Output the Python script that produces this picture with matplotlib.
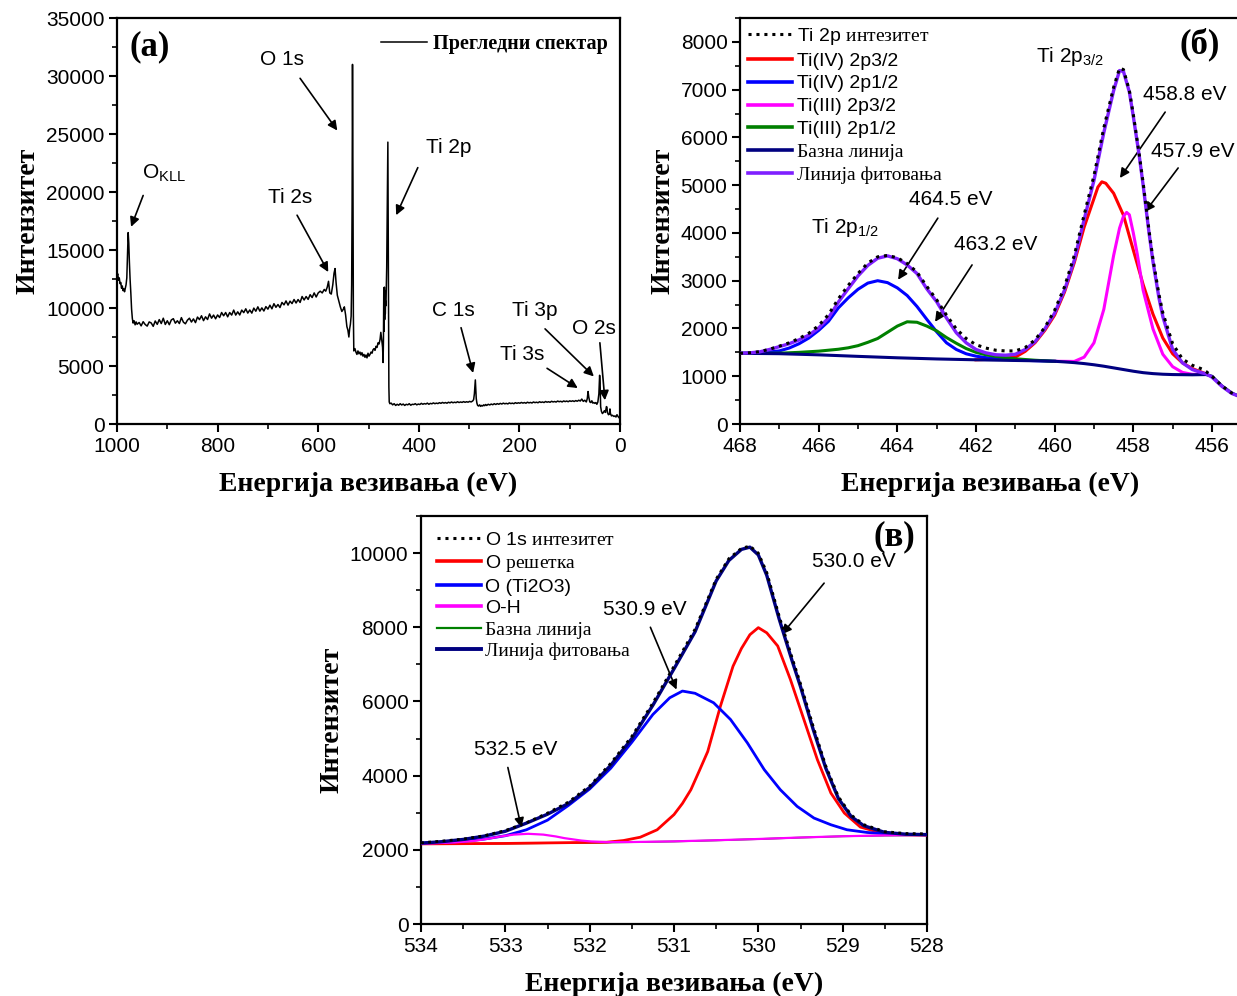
import matplotlib
matplotlib.use('Agg')
import matplotlib.pyplot as plt
from matplotlib.ticker import MultipleLocator
from matplotlib.lines import Line2D

plt.rcParams['font.family'] = ['Liberation Sans', 'DejaVu Sans']
plt.rcParams['mathtext.fontset'] = 'custom'
plt.rcParams['mathtext.rm'] = 'Liberation Serif'
plt.rcParams['mathtext.sf'] = 'Liberation Sans'
plt.rcParams['mathtext.it'] = 'Liberation Serif:italic'
plt.rcParams['mathtext.bf'] = 'Liberation Serif:bold'

SERIF = 'Liberation Serif'

# ---- (a) survey spectrum ----
survey_be = [1000, 998.5, 997, 995.5, 994, 992.5, 991, 989.5, 988, 986.5, 985, 983.5, 982, 980.5,
             979, 977.8, 976.6, 975.4, 974, 972.5, 971, 969.5, 968, 966, 964, 962, 960,
             956, 952, 948, 944, 940, 936, 932, 928, 924, 920, 916, 912, 908, 904, 900, 896,
             892, 888, 884, 880, 876, 872, 868, 864, 860, 856, 852, 848, 844, 840, 836, 832,
             828, 824, 820, 816, 812, 808, 804, 800, 796, 792, 788, 784, 780, 776, 772, 768,
             764, 760, 756, 752, 748, 744, 740, 736, 732, 728, 724, 720, 716, 712, 708, 704,
             700, 696, 692, 688, 684, 680, 676, 672, 668, 664, 660, 656, 652, 648, 644, 640,
             636, 632, 628, 624, 620, 616, 612, 608, 604, 600,
             596, 592, 588, 585, 582, 579.5, 577, 574,
             571, 568.5, 566.5, 564.5, 562, 559, 556, 553, 550, 548, 545.5, 543, 541, 539,
             537.5, 536, 534.5, 533.5, 532.6, 531.8, 530.9, 530.1, 529.2, 527, 525, 523, 521,
             519, 517, 515, 513, 511, 509, 507, 505, 503, 501, 499, 497, 495, 493, 491, 489,
             487, 485, 483, 481, 479, 477, 475.5, 474, 473, 472, 471, 470.3, 469.6, 469, 468.4,
             467.8, 467.2, 466.6, 466, 465.3, 464.6, 463.8, 463, 462.3, 461.5, 460.8, 460.2,
             459.5, 458.8, 457.5, 455, 452, 449, 446, 443, 440, 437, 434, 431, 428, 425, 422,
             419, 416, 413, 410, 407, 404, 401, 398, 395, 392, 389, 386, 383, 380, 377, 374,
             371, 368, 365, 362, 359, 356, 353, 350, 347, 344, 341, 338, 335, 332, 329, 326,
             323, 320, 317, 314, 311, 308, 305, 302, 299, 296, 293, 291, 289.5, 288.5, 287.6,
             286.7, 285.8, 284.5, 283, 281, 279, 277, 275, 273, 271, 269, 267, 265, 262, 259,
             256, 253, 250, 247, 244, 241, 238, 235, 232, 229, 226, 223, 220, 217, 214, 211,
             208, 205, 202, 199, 196, 193, 190, 187, 184, 181, 178, 175, 172, 169, 166, 163,
             160, 157, 154, 151, 148, 145, 142, 139, 136, 133, 130, 127, 124, 121, 118, 115,
             112, 109, 106, 103, 100, 97, 94, 91, 88, 85, 82, 79, 76, 73, 70, 67, 65, 63.5,
             62, 60, 58, 56, 54, 52, 50, 48, 46, 44, 42, 40.5, 39.5, 38.5, 37, 35, 33, 31, 29,
             27, 26, 25, 23, 21, 20, 19, 17, 15, 12, 10, 8, 6, 4, 2, 0]
survey_int = [12800, 12950, 12400, 12600, 12100, 12200, 11700, 11900, 11500, 11650, 11400, 11700,
              12000, 12600, 14800, 16500, 15600, 14000, 12500, 11300, 9900, 9100, 8700, 8900,
              8550, 8800, 8600,
              8750, 8460, 8820, 8580, 8440, 8800, 8710, 8420, 8880, 8590, 9000, 8660, 9120,
              8580, 8900, 8560, 8970, 9080, 8690, 8900, 8660, 9170, 8780, 8640, 8950, 9120,
              8790, 9060, 8740, 9220, 9000, 9330, 8910, 9240, 9010, 9490, 9120, 9390, 9070,
              9400, 9180, 9610, 9330, 9610, 9240, 9610, 9390, 9820, 9390, 9670, 9400, 9820,
              9600, 9930, 9560, 9830, 9560, 9990, 9720, 10100, 9730, 10010, 9740, 10120, 9900,
              10240, 9930, 10370, 10060, 10300, 10040, 10480, 10270, 10610, 10250, 10590,
              10380, 10730, 10430, 10730, 10480, 10990, 10690, 10990, 10740, 11150, 10900,
              11300, 10950, 11300,
              11450, 11300, 11600, 11450, 11800, 12300, 11300, 11200, 12000, 13000, 13400,
              12200, 11100, 10600, 10100, 9700, 9900, 10100, 9400, 8400, 8100, 7500, 8200,
              8600, 9300, 12000, 19000, 31000, 21000, 9500, 6300, 6500, 6200, 6000, 6300, 6050,
              6200, 5950, 6150, 5850, 6000, 5750, 5950, 5700, 6100, 5850, 6000, 6200, 6100,
              6400, 6500, 6350, 6700, 6600, 7000, 6900, 7300, 7900, 7400, 7000, 6600, 5300,
              7200, 11700, 8000, 11800, 9000, 11500, 9500, 10600, 10200, 11600, 13500, 17000,
              20000, 24300, 17000, 9000, 3200, 1900, 1750, 1800, 1650, 1750, 1600, 1700, 1620,
              1750, 1640, 1720, 1600, 1700, 1650, 1750, 1620, 1700, 1680, 1750, 1650, 1720,
              1680, 1780, 1700, 1760, 1720, 1800, 1700, 1780, 1740, 1820, 1750, 1800, 1760,
              1840, 1780, 1860, 1800, 1850, 1790, 1880, 1820, 1900, 1830, 1880, 1840, 1920,
              1850, 1900, 1860, 1930, 1870, 1920, 1880, 1950, 1900, 1980, 2100, 2600, 3300,
              3800, 3000, 2200, 1800, 1600, 1550, 1650, 1520, 1600, 1550, 1650, 1580, 1680,
              1600, 1700, 1640, 1720, 1660, 1750, 1680, 1760, 1700, 1780, 1720, 1800, 1740,
              1780, 1730, 1820, 1760, 1800, 1750, 1840, 1780, 1830, 1790, 1860, 1800, 1850,
              1790, 1880, 1820, 1860, 1810, 1900, 1840, 1880, 1830, 1920, 1860, 1900, 1850,
              1940, 1880, 1920, 1870, 1960, 1900, 1940, 1890, 1980, 1920, 1960, 1900, 1990,
              1930, 1980, 1920, 2000, 1950, 2000, 1940, 2020, 1960, 2050, 1980, 2150, 1950,
              2050, 1900, 2200, 2800, 2300, 1900, 1850, 2000, 1800, 1850, 1780, 1850, 1700,
              1900, 2600, 4200, 3500, 1500, 1100, 900, 1000, 1150, 1000, 1500, 1450, 1000, 800,
              850, 1300, 900, 700, 750, 650, 700, 600, 800, 650, 550, 450]

# ---- (б) Ti 2p ----
ti_data_be = [468.0, 467.75, 467.5, 467.25, 467.0, 466.75, 466.5, 466.25, 466.0, 465.75, 465.5,
              465.25, 465.0, 464.75, 464.5, 464.25, 464.0, 463.75, 463.5, 463.25, 463.0, 462.75,
              462.5, 462.25, 462.0, 461.75, 461.5, 461.25, 461.0, 460.75, 460.5, 460.25, 460.0,
              459.75, 459.5, 459.25, 459.0, 458.75, 458.5, 458.35, 458.25, 458.1, 458.0, 457.85,
              457.75, 457.6, 457.5, 457.35, 457.25, 457.0, 456.75, 456.5, 456.25, 456.15, 456.0,
              455.75, 455.5, 455.25]
ti_data_int = [1480, 1492, 1515, 1565, 1630, 1700, 1790, 1900, 2060, 2290, 2620, 2900, 3150, 3370,
               3500, 3530, 3480, 3360, 3180, 2880, 2600, 2280, 1990, 1790, 1660, 1590, 1545, 1530,
               1530, 1600, 1760, 2020, 2380, 2870, 3530, 4380, 5200, 6200, 7050, 7450, 7420, 6980,
               6480, 5650, 5050, 4050, 3450, 2720, 2330, 1680, 1360, 1230, 1150, 1100, 1000, 800,
               650, 565]
ti_fit_int = [1480, 1490, 1510, 1560, 1620, 1680, 1760, 1860, 2010, 2220, 2550, 2830, 3100, 3320,
              3470, 3520, 3460, 3330, 3150, 2830, 2560, 2220, 1910, 1700, 1560, 1490, 1450, 1440,
              1460, 1560, 1720, 1990, 2320, 2800, 3430, 4280, 5100, 6100, 6980, 7400, 7380, 6950,
              6440, 5620, 5000, 4000, 3400, 2650, 2250, 1560, 1280, 1140, 1070, 1050, 980, 790,
              640, 560]

ti_base_be = [468.0, 467.0, 466.0, 465.0, 464.0, 463.0, 462.0, 461.0, 460.25, 460.0, 459.75, 459.5,
              459.25, 459.0, 458.75, 458.5, 458.25, 458.0, 457.75, 457.5, 457.25, 457.0, 456.5,
              456.15, 456.0, 455.75, 455.5, 455.25]
ti_base_int = [1480, 1472, 1448, 1416, 1386, 1362, 1344, 1330, 1320, 1313, 1300, 1285, 1265, 1240,
               1210, 1175, 1140, 1105, 1075, 1055, 1042, 1035, 1030, 1035, 1000, 800, 650, 560]

ti4_12_be = [468.0, 467.5, 467.0, 466.75, 466.5, 466.25, 466.0, 465.75, 465.5, 465.25, 465.0,
             464.75, 464.5, 464.25, 464.0, 463.75, 463.5, 463.25, 463.0, 462.75, 462.5, 462.25,
             462.0, 461.75, 461.5, 461.0, 460.5, 460.0]
ti4_12_int = [1480, 1490, 1530, 1590, 1680, 1800, 1960, 2150, 2430, 2640, 2820, 2950, 3000, 2960,
              2850, 2690, 2460, 2190, 1930, 1700, 1560, 1470, 1420, 1390, 1370, 1340, 1326, 1313]

ti3_12_be = [468.0, 467.0, 466.5, 466.0, 465.5, 465.25, 465.0, 464.75, 464.5, 464.25, 464.0,
             463.75, 463.5, 463.25, 463.0, 462.75, 462.5, 462.25, 462.0, 461.75, 461.5, 461.0,
             460.5, 460.0]
ti3_12_int = [1480, 1482, 1500, 1525, 1565, 1595, 1640, 1710, 1790, 1920, 2050, 2140, 2130, 2050,
              1950, 1810, 1690, 1580, 1500, 1450, 1415, 1365, 1335, 1313]

ti4_32_be = [462.0, 461.5, 461.0, 460.75, 460.5, 460.25, 460.0, 459.75, 459.5, 459.25, 459.0,
             458.9, 458.8, 458.7, 458.5, 458.25, 458.0, 457.75, 457.5, 457.25, 457.0, 456.75,
             456.5, 456.15]
ti4_32_int = [1344, 1360, 1400, 1520, 1700, 1960, 2280, 2760, 3380, 4120, 4720, 4960, 5070, 5040,
              4830, 4370, 3640, 2920, 2300, 1800, 1470, 1280, 1160, 1050]

ti3_32_be = [460.0, 459.5, 459.25, 459.0, 458.75, 458.5, 458.35, 458.25, 458.17, 458.1, 458.0,
             457.9, 457.75, 457.5, 457.25, 457.0, 456.75, 456.5, 456.15]
ti3_32_int = [1313, 1310, 1400, 1700, 2400, 3530, 4100, 4350, 4430, 4380, 4000, 3560, 2800, 1990,
              1460, 1200, 1080, 1040, 1040]

# ---- (в) O 1s ----
o_be = [534.0, 533.75, 533.5, 533.25, 533.0, 532.75, 532.5, 532.25, 532.0, 531.75, 531.5, 531.25,
        531.0, 530.75, 530.5, 530.35, 530.2, 530.1, 530.0, 529.9, 529.75, 529.6, 529.5, 529.35,
        529.2, 529.05, 528.9, 528.75, 528.5, 528.25, 528.0]
o_data_int = [2190, 2235, 2290, 2380, 2520, 2730, 2990, 3290, 3720, 4330, 5060, 5960, 6950, 7950,
              9300, 9850, 10130, 10190, 10000, 9480, 8280, 7180, 6480, 5330, 4260, 3430, 2940,
              2680, 2490, 2440, 2430]
o_fit_int = [2180, 2220, 2280, 2370, 2500, 2720, 2960, 3250, 3680, 4280, 5000, 5900, 6880, 7880,
             9250, 9800, 10100, 10160, 9950, 9400, 8200, 7100, 6400, 5250, 4200, 3380, 2900,
             2650, 2470, 2420, 2410]

o_latt_be = [534.0, 533.0, 532.2, 531.8, 531.6, 531.4, 531.2, 531.0, 530.9, 530.8, 530.7, 530.6,
             530.45, 530.3, 530.2, 530.1, 530.0, 529.9, 529.77, 529.62, 529.46, 529.3, 529.14,
             528.98, 528.79, 528.55, 528.3, 528.0]
o_latt_int = [2160, 2172, 2195, 2205, 2250, 2340, 2540, 2950, 3250, 3620, 4130, 4650, 5870, 6950,
              7430, 7800, 7990, 7850, 7495, 6594, 5514, 4432, 3532, 2991, 2613, 2460, 2410, 2395]

o_ti2o3_be = [534.0, 533.75, 533.5, 533.25, 533.0, 532.75, 532.5, 532.25, 532.0, 531.75, 531.5,
              531.25, 531.05, 530.9, 530.75, 530.53, 530.33, 530.13, 529.93, 529.74, 529.54,
              529.34, 529.14, 528.95, 528.71, 528.4, 528.0]
o_ti2o3_int = [2180, 2195, 2230, 2290, 2380, 2540, 2800, 3200, 3640, 4200, 4900, 5650, 6100, 6280,
               6220, 5964, 5514, 4883, 4162, 3622, 3171, 2856, 2676, 2541, 2468, 2420, 2405]

o_oh_be = [534.0, 533.6, 533.37, 533.2, 533.06, 532.9, 532.73, 532.55, 532.4, 532.3, 532.1, 531.98,
           531.8, 531.5, 531.0, 530.5, 530.0, 529.5, 529.0, 528.5, 528.0]
o_oh_int = [2165, 2200, 2240, 2300, 2360, 2410, 2432, 2410, 2360, 2315, 2250, 2225, 2207, 2210,
            2228, 2258, 2292, 2332, 2366, 2388, 2398]

o_base_be = [534.0, 533.0, 532.0, 531.0, 530.5, 530.0, 529.5, 529.0, 528.5, 528.0]
o_base_int = [2160, 2172, 2190, 2225, 2255, 2290, 2330, 2365, 2385, 2395]

W, H = 1237, 996
DOTS = (0, (1, 1.6))
ARROW = dict(arrowstyle='-|>', color='black', lw=1.2, mutation_scale=14, shrinkA=0, shrinkB=0)


def style_axes(ax, xmaj, xmin, ymaj, ymin):
    for sp in ax.spines.values():
        sp.set_linewidth(1.6)
    ax.xaxis.set_major_locator(MultipleLocator(xmaj))
    ax.xaxis.set_minor_locator(MultipleLocator(xmin))
    ax.yaxis.set_major_locator(MultipleLocator(ymaj))
    ax.yaxis.set_minor_locator(MultipleLocator(ymin))
    ax.tick_params(which='both', direction='out', top=False, right=False, labelsize=15)
    ax.tick_params(which='major', length=6, width=1.5, pad=3)
    ax.tick_params(which='minor', length=3.5, width=1.2)
    ax.set_xlabel('Енергија везивања (eV)', fontfamily=SERIF, fontweight='bold',
                  fontsize=20, labelpad=12)
    ax.set_ylabel('Интензитет', fontfamily=SERIF, fontweight='bold', fontsize=20, labelpad=4)


def arrow(ax, tail, head):
    ax.annotate('', xy=head, xytext=tail, arrowprops=ARROW)


def label(ax, x, y, s, size=15):
    ax.text(x, y, s, ha='center', va='center', fontsize=size)


fig = plt.figure(figsize=(W / 100, H / 100), dpi=100)
ax_a = fig.add_axes([117 / W, 1 - 424 / H, 503 / W, 406 / H])
ax_b = fig.add_axes([740 / W, 1 - 424 / H, 499.5 / W, 406 / H])
ax_c = fig.add_axes([421 / W, 1 - 924 / H, 506 / W, 408 / H])

# ---- panel (a) ----
ax_a.plot(survey_be, survey_int, color='black', lw=1.1, label='Прегледни спектар')
ax_a.set_xlim(1000, 0)
ax_a.set_ylim(0, 35000)
style_axes(ax_a, 200, 100, 5000, 2500)
ax_a.legend(loc='upper right', bbox_to_anchor=(1.0, 0.99), frameon=False, handlelength=2.3,
            handletextpad=0.3, borderaxespad=0.3, borderpad=0.3,
            prop=dict(family=SERIF, weight='bold', size=14.5))
ax_a.text(0.025, 0.93, '(a)', transform=ax_a.transAxes, fontfamily=SERIF, fontweight='bold',
          fontsize=25, va='center')
label(ax_a, 672, 31400, 'O 1s')
arrow(ax_a, (636, 29800), (562, 25300))
label(ax_a, 340, 23800, 'Ti 2p')
arrow(ax_a, (402, 22100), (445, 18000))
ax_a.text(950, 21700, r'O$_{\mathsf{KLL}}$', ha='left', va='center', fontsize=15)
arrow(ax_a, (948, 19700), (972, 17000))
label(ax_a, 656, 19500, 'Ti 2s')
arrow(ax_a, (642, 18000), (580, 13100))
label(ax_a, 332, 9750, 'C 1s')
arrow(ax_a, (316, 8300), (292, 4400))
label(ax_a, 169, 9750, 'Ti 3p')
arrow(ax_a, (149, 8200), (52, 4100))
label(ax_a, 195, 6000, 'Ti 3s')
arrow(ax_a, (145, 4800), (84, 3100))
label(ax_a, 52, 8200, 'O 2s')
arrow(ax_a, (40, 7000), (30, 2050))

# ---- panel (б) ----
ax_b.plot(ti4_32_be, ti4_32_int, color='#ff0000', lw=2.2, zorder=3)
ax_b.plot(ti4_12_be, ti4_12_int, color='#0000ff', lw=2.2, zorder=3)
ax_b.plot(ti3_32_be, ti3_32_int, color='#ff00ff', lw=2.2, zorder=3)
ax_b.plot(ti3_12_be, ti3_12_int, color='#008000', lw=2.2, zorder=3)
ax_b.plot(ti_base_be, ti_base_int, color='#000080', lw=2.2, zorder=4)
ax_b.plot(ti_data_be, ti_fit_int, color='#7f1fff', lw=2.4, zorder=5)
ax_b.plot(ti_data_be, ti_data_int, color='black', lw=2.2, ls=DOTS, zorder=6)
ax_b.set_xlim(468, 455.3)
ax_b.set_ylim(0, 8500)
style_axes(ax_b, 2, 1, 1000, 500)

ti_labels = ['Ti 2p $\\mathrm{интезитет}$', 'Ti(IV) 2p3/2', 'Ti(IV) 2p1/2', 'Ti(III) 2p3/2',
             'Ti(III) 2p1/2', 'Базна линија', 'Линија фитовања']
ti_styles = [('black', DOTS, 2.2), ('#ff0000', '-', 2.6), ('#0000ff', '-', 2.6),
             ('#ff00ff', '-', 2.6), ('#008000', '-', 2.6), ('#000080', '-', 2.6),
             ('#7f1fff', '-', 2.6)]
handles = [Line2D([], [], color=c, ls=s, lw=w) for c, s, w in ti_styles]
leg = ax_b.legend(handles, ti_labels, loc='upper left', frameon=False, fontsize=14,
                  handlelength=2.3, handletextpad=0.25, labelspacing=0.27,
                  borderaxespad=0.05, borderpad=0.35)
for t in leg.get_texts()[5:]:
    t.set_fontfamily(SERIF)
ax_b.text(456.3, 7950, '(б)', fontfamily=SERIF, fontweight='bold', fontsize=25,
          ha='center', va='center')
ax_b.text(459.6, 7700, r'Ti 2p$_{\mathsf{3/2}}$', ha='center', va='center', fontsize=15)
label(ax_b, 456.69, 6890, '458.8 eV')
arrow(ax_b, (457.19, 6530), (458.34, 5150))
label(ax_b, 456.48, 5700, '457.9 eV')
arrow(ax_b, (456.86, 5360), (457.70, 4440))
ax_b.text(465.33, 4110, r'Ti 2p$_{\mathsf{1/2}}$', ha='center', va='center', fontsize=15)
label(ax_b, 462.64, 4710, '464.5 eV')
arrow(ax_b, (462.97, 4310), (463.98, 3020))
label(ax_b, 461.49, 3750, '463.2 eV')
arrow(ax_b, (462.10, 3330), (463.04, 2140))

# ---- panel (в) ----
ax_c.plot(o_base_be, o_base_int, color='#008000', lw=1.3, zorder=2)
ax_c.plot(o_latt_be, o_latt_int, color='#ff0000', lw=2.0, zorder=3)
ax_c.plot(o_ti2o3_be, o_ti2o3_int, color='#0000ff', lw=2.0, zorder=3)
ax_c.plot(o_oh_be, o_oh_int, color='#ff00ff', lw=1.6, zorder=3)
ax_c.plot(o_be, o_fit_int, color='#000080', lw=2.4, zorder=5)
ax_c.plot(o_be, o_data_int, color='black', lw=2.0, ls=DOTS, zorder=6)
ax_c.set_xlim(534, 528)
ax_c.set_ylim(0, 11000)
style_axes(ax_c, 1, 0.5, 2000, 1000)

o_labels = ['O 1s $\\mathrm{интезитет}$', 'O $\\mathrm{решетка}$', 'O (Ti2O3)', 'O-H',
            'Базна линија', 'Линија фитовања']
o_styles = [('black', DOTS, 2.2), ('#ff0000', '-', 2.6), ('#0000ff', '-', 2.6),
            ('#ff00ff', '-', 2.6), ('#008000', '-', 1.6), ('#000080', '-', 2.8)]
handles = [Line2D([], [], color=c, ls=s, lw=w) for c, s, w in o_styles]
leg = ax_c.legend(handles, o_labels, loc='upper left', frameon=False, fontsize=14,
                  handlelength=2.3, handletextpad=0.2, labelspacing=0.2,
                  borderaxespad=0.5, borderpad=0.3)
for t in leg.get_texts()[4:]:
    t.set_fontfamily(SERIF)
ax_c.text(528.39, 10430, '(в)', fontfamily=SERIF, fontweight='bold', fontsize=25,
          ha='center', va='center')
label(ax_c, 528.87, 9760, '530.0 eV')
arrow(ax_c, (529.22, 9190), (529.72, 7810))
label(ax_c, 531.35, 8490, '530.9 eV')
arrow(ax_c, (531.28, 8000), (530.97, 6320))
label(ax_c, 532.88, 4700, '532.5 eV')
arrow(ax_c, (532.97, 4220), (532.81, 2600))

fig.savefig('out.png', dpi=100, facecolor='white')
